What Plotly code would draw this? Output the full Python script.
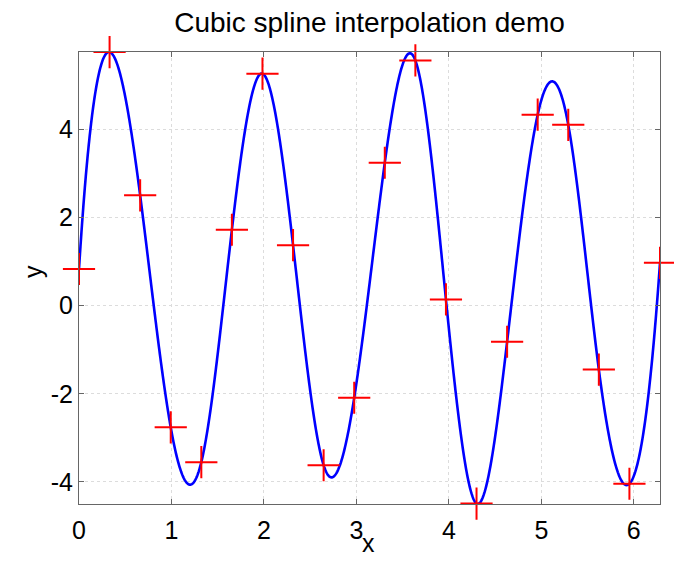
import numpy as np
import plotly.graph_objects as go

# Sample points (20 knots over one 0..2*pi interval)
x_knots = np.linspace(0, 2 * np.pi, 20)
y_knots = [0.83, 5.75, 2.50, -2.76, -3.55, 1.72, 5.26, 1.37, -3.62, -2.09,
           3.24, 5.56, 0.14, -4.49, -0.82, 4.33, 4.10, -1.45, -4.04, 0.97]

x_ticks = [0, 1, 2, 3, 4, 5, 6]
y_ticks = [-4, -2, 0, 2, 4]

FONT = "Liberation Sans, Arial, Helvetica, sans-serif"


def not_a_knot_spline(x, y, xq):
    """Cubic spline with not-a-knot end conditions, evaluated at xq."""
    x = np.asarray(x, float)
    y = np.asarray(y, float)
    n = len(x)
    h = np.diff(x)
    A = np.zeros((n, n))
    b = np.zeros(n)
    # not-a-knot at the first interior knot
    A[0, 0] = h[1]
    A[0, 1] = -(h[0] + h[1])
    A[0, 2] = h[0]
    for i in range(1, n - 1):
        A[i, i - 1] = h[i - 1]
        A[i, i] = 2 * (h[i - 1] + h[i])
        A[i, i + 1] = h[i]
        b[i] = 6 * ((y[i + 1] - y[i]) / h[i] - (y[i] - y[i - 1]) / h[i - 1])
    # not-a-knot at the last interior knot
    A[n - 1, n - 3] = h[n - 2]
    A[n - 1, n - 2] = -(h[n - 3] + h[n - 2])
    A[n - 1, n - 1] = h[n - 3]
    M = np.linalg.solve(A, b)

    idx = np.clip(np.searchsorted(x, xq) - 1, 0, n - 2)
    hi = h[idx]
    t0 = x[idx + 1] - xq
    t1 = xq - x[idx]
    return (M[idx] * t0 ** 3 / (6 * hi) + M[idx + 1] * t1 ** 3 / (6 * hi)
            + (y[idx] / hi - M[idx] * hi / 6) * t0
            + (y[idx + 1] / hi - M[idx + 1] * hi / 6) * t1)


x_fine = np.linspace(x_knots[0], x_knots[-1], 1200)
y_fine = not_a_knot_spline(x_knots, y_knots, x_fine)

# tight y limits, as in axis tight
y_lo = min(y_fine.min(), min(y_knots))
y_hi = max(y_fine.max(), max(y_knots))

fig = go.Figure()
fig.add_trace(go.Scatter(
    x=x_fine, y=y_fine, mode="lines",
    line=dict(color="#0000ff", width=2.6, simplify=False),
    hoverinfo="skip", showlegend=False,
))
fig.add_trace(go.Scatter(
    x=x_knots, y=y_knots, mode="markers",
    marker=dict(symbol="cross-thin", size=23, color="#ff0000",
                line=dict(color="#ff0000", width=2)),
    cliponaxis=False, showlegend=False,
))

axis_common = dict(
    showline=True, linecolor="#666666", linewidth=1, mirror="ticks",
    ticks="inside", ticklen=5, tickcolor="#666666",
    showgrid=True, gridcolor="#dcdcdc", griddash="dot", gridwidth=1,
    zeroline=False, automargin=False,
    tickfont=dict(family=FONT, size=25, color="#000000"),
)

fig.update_xaxes(
    range=[x_knots[0], x_knots[-1]],
    tickvals=x_ticks, ticktext=[str(v) for v in x_ticks],
    ticklabelstandoff=4,
    **axis_common,
)
fig.update_yaxes(
    range=[y_lo, y_hi],
    tickvals=y_ticks, ticktext=[str(v) for v in y_ticks],
    **axis_common,
)

label_font = dict(family=FONT, size=25, color="#000000")
fig.add_annotation(text="x", xref="paper", yref="paper", x=0.499, y=-0.087,
                   xanchor="center", yanchor="middle", showarrow=False,
                   font=label_font)
fig.add_annotation(text="y", xref="paper", yref="paper", x=-0.078, y=0.515,
                   xanchor="center", yanchor="middle", textangle=-90,
                   showarrow=False, font=label_font)

fig.update_layout(
    width=674, height=561,
    margin=dict(l=79, r=14, t=52, b=57),
    paper_bgcolor="#ffffff", plot_bgcolor="#ffffff",
    title=dict(text="Cubic spline interpolation demo", xref="paper", x=0.5,
               xanchor="center", y=0.961, yanchor="middle",
               font=dict(family=FONT, size=28, color="#000000")),
)

fig.write_html("out.html")
